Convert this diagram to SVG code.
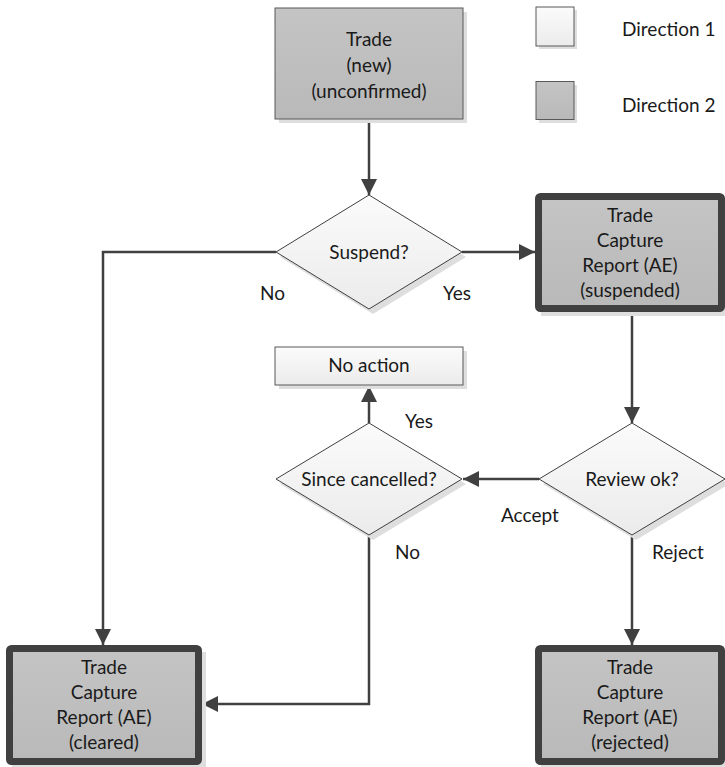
<svg xmlns="http://www.w3.org/2000/svg" width="725" height="767" viewBox="0 0 725 767">
  <defs>
    <linearGradient id="lightFill" x1="0" y1="0" x2="0" y2="1">
      <stop offset="0" stop-color="#fbfbfb"/>
      <stop offset="1" stop-color="#ebebeb"/>
    </linearGradient>
    <linearGradient id="grayFill" x1="0" y1="0" x2="0" y2="1">
      <stop offset="0" stop-color="#c4c4c4"/>
      <stop offset="1" stop-color="#b9b9b9"/>
    </linearGradient>
    <marker id="arrow" markerWidth="16" markerHeight="16" refX="16" refY="8" orient="auto" markerUnits="userSpaceOnUse">
      <path d="M0,0 L16,8 L0,16 Z" fill="#404040"/>
    </marker>
    <style>
      text { font-family: Lato, "Liberation Sans", sans-serif; font-size: 19px; fill: #1a1a1a; }
      .c { text-anchor: middle; }
      .shadow { fill: #dedede; stroke: none; }
      .box { fill: url(#grayFill); stroke: #595959; stroke-width: 1; }
      .light { fill: url(#lightFill); stroke: #595959; stroke-width: 1; }
      .thick { fill: url(#grayFill); stroke: #404040; stroke-width: 7; stroke-linejoin: round; }
      .diamond { fill: url(#lightFill); stroke: #404040; stroke-width: 1; }
      .conn { fill: none; stroke: #404040; stroke-width: 2.5; marker-end: url(#arrow); }
    </style>
  </defs>

  <!-- legend -->
  <g id="legend">
    <rect class="shadow" x="539" y="10" width="38" height="39"/>
    <rect class="light" x="536" y="7" width="38" height="39"/>
    <text x="622" y="35.5">Direction 1</text>
    <rect class="shadow" x="539" y="85" width="38" height="38"/>
    <rect class="box" x="536" y="81.5" width="38" height="38"/>
    <text x="622" y="111.5">Direction 2</text>
  </g>

  <!-- connectors -->
  <g id="connectors">
    <path class="conn" d="M369,119 V195"/>
    <path class="conn" d="M462,252 H535"/>
    <path class="conn" d="M276,252 H103 V645"/>
    <path class="conn" d="M632,312 V423"/>
    <path class="conn" d="M539,479 H463"/>
    <path class="conn" d="M369,423 V386"/>
    <path class="conn" d="M632,535 V645"/>
    <path class="conn" d="M369,535 V704 H202"/>
  </g>

  <!-- edge labels -->
  <g id="labels">
    <text x="260" y="300">No</text>
    <text x="443" y="300">Yes</text>
    <text x="405" y="428">Yes</text>
    <text x="501" y="522">Accept</text>
    <text x="395" y="559">No</text>
    <text x="652" y="559">Reject</text>
  </g>

  <g id="trade-new">
    <rect class="shadow" x="279" y="12" width="188" height="111"/>
    <rect class="box" x="275" y="8" width="188" height="111"/>
    <text class="c" x="369" y="45.5">Trade</text>
    <text class="c" x="369" y="71.5">(new)</text>
    <text class="c" x="369" y="97.5">(unconfirmed)</text>
  </g>

  <g id="suspend">
    <polygon class="shadow" points="373,200 466,257 373,314 280,257"/>
    <polygon class="diamond" points="369,195 462,252 369,309 276,252"/>
    <text class="c" x="369" y="258.5">Suspend?</text>
  </g>

  <g id="tcr-suspended">
    <rect class="shadow" x="541" y="200" width="184" height="116"/>
    <rect class="thick" x="538.5" y="196.5" width="183" height="112" rx="2"/>
    <text class="c" x="630" y="221.5">Trade</text>
    <text class="c" x="630" y="246.5">Capture</text>
    <text class="c" x="630" y="271.5">Report (AE)</text>
    <text class="c" x="630" y="296.5">(suspended)</text>
  </g>

  <g id="no-action">
    <rect class="shadow" x="279" y="351" width="188" height="38"/>
    <rect class="light" x="275" y="347" width="188" height="38"/>
    <text class="c" x="369" y="371.5">No action</text>
  </g>

  <g id="since-cancelled">
    <polygon class="shadow" points="373,428 466,484 373,540 280,484"/>
    <polygon class="diamond" points="369,423 462,479 369,535 276,479"/>
    <text class="c" x="369" y="485.5">Since cancelled?</text>
  </g>

  <g id="review-ok">
    <polygon class="shadow" points="636,428 729,484 636,540 543,484"/>
    <polygon class="diamond" points="632,423 725,479 632,535 539,479"/>
    <text class="c" x="632" y="485.5">Review ok?</text>
  </g>

  <g id="tcr-cleared">
    <rect class="shadow" x="12" y="652" width="194" height="115"/>
    <rect class="thick" x="9.5" y="648.5" width="189" height="113" rx="2"/>
    <text class="c" x="104" y="674">Trade</text>
    <text class="c" x="104" y="699">Capture</text>
    <text class="c" x="104" y="724">Report (AE)</text>
    <text class="c" x="104" y="749">(cleared)</text>
  </g>

  <g id="tcr-rejected">
    <rect class="shadow" x="541" y="652" width="184" height="115"/>
    <rect class="thick" x="538.5" y="648.5" width="183" height="113" rx="2"/>
    <text class="c" x="630" y="674">Trade</text>
    <text class="c" x="630" y="699">Capture</text>
    <text class="c" x="630" y="724">Report (AE)</text>
    <text class="c" x="630" y="749">(rejected)</text>
  </g>
</svg>
